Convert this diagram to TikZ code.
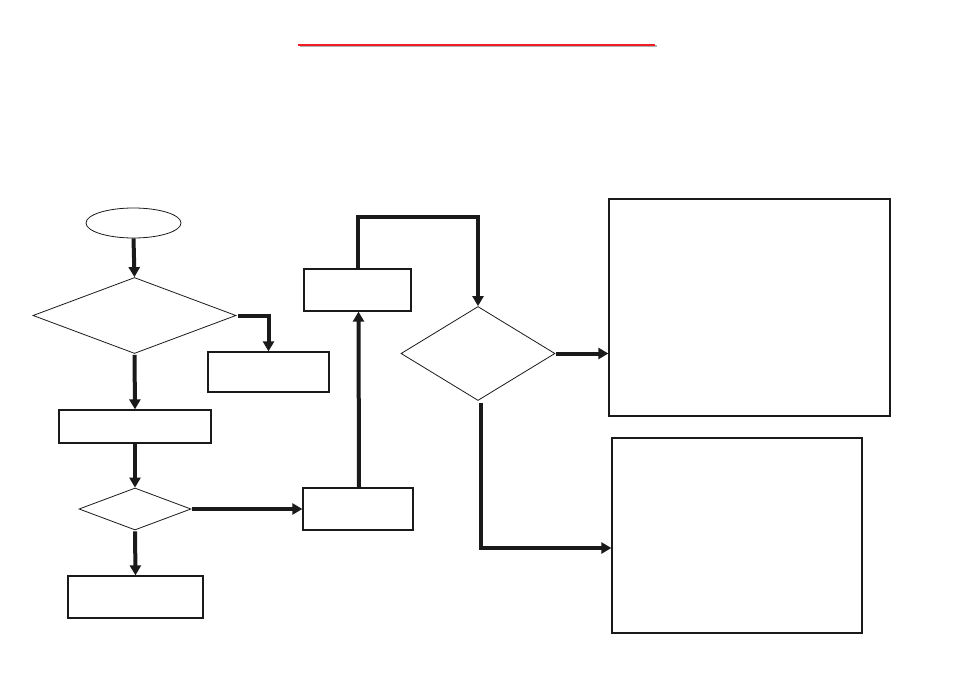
\documentclass[tikz,border=0pt]{standalone}
\usetikzlibrary{shapes.geometric,arrows.meta}
\definecolor{rulered}{RGB}{240,30,36}
\definecolor{ink}{RGB}{26,26,26}
\begin{document}
\begin{tikzpicture}[x=1pt,y=-1pt,
  boxnode/.style={draw=ink,line width=1.3pt,rectangle,inner sep=0pt},
  dia/.style={draw=ink,line width=0.8pt,diamond,inner sep=0pt},
  ovalnode/.style={draw=ink,line width=0.8pt,ellipse,inner sep=0pt},
  arr/.style={draw=ink,line width=4pt,-{Triangle[length=10pt,width=11pt]}}]
\useasboundingbox (0,0) rectangle (954,674);
\fill[white] (0,0) rectangle (954,674);
% title rule
\draw[black!30,line width=2pt] (299.5,46.5) -- (656.5,46.5);
\draw[rulered,line width=2.4pt] (298,45) -- (655,45);
% nodes
\node[ovalnode,minimum width=95pt,minimum height=30pt] (st) at (133.5,223) {};
\node[dia,minimum width=203pt,minimum height=76pt] (d1) at (134.5,315.5) {};
\node[boxnode,minimum width=121pt,minimum height=40pt] (bA) at (268.5,372) {};
\node[boxnode,minimum width=152pt,minimum height=33pt] (bB) at (135,426.5) {};
\node[dia,minimum width=112pt,minimum height=42pt] (d2) at (135,509) {};
\node[boxnode,minimum width=135pt,minimum height=42pt] (bC) at (135.5,597) {};
\node[boxnode,minimum width=110pt,minimum height=42pt] (bD) at (358,509) {};
\node[boxnode,minimum width=107pt,minimum height=42pt] (bE) at (357.5,290) {};
\node[dia,minimum width=154pt,minimum height=94pt] (d3) at (478,353.5) {};
\node[boxnode,minimum width=281pt,minimum height=217pt] (bF) at (749.5,307.5) {};
\node[boxnode,minimum width=250pt,minimum height=195pt] (bG) at (737,535.5) {};
% connectors
\draw[arr] (st.south) -- (d1.north);
\draw[arr] ([xshift=2pt]d1.east) -| (bA.north);
\draw[arr] ([yshift=-1pt]d1.south) -- (bB.north);
\draw[arr] (bB.south) -- (d2.north);
\draw[arr] ([yshift=-1pt]d2.south) -- (bC.north);
\draw[arr] ([xshift=1pt]d2.east) -- (bD.west);
\draw[arr] ([xshift=1pt]bD.north) -- ([xshift=1pt]bE.south);
\draw[arr] (bE.north) -- ++(0,-51) -| (d3.north);
\draw[arr] ([xshift=1pt]d3.east) -- (d3.east -| bF.west);
\draw[arr] ([xshift=3pt,yshift=-2pt]d3.south) |- ([yshift=-12.5pt]bG.west);
\end{tikzpicture}
\end{document}
